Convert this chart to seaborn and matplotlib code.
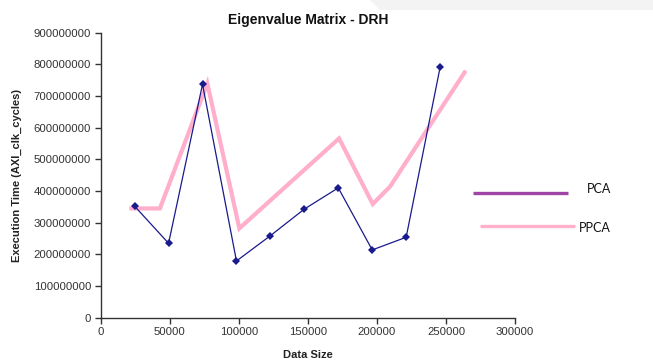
import matplotlib
matplotlib.use("Agg")
import matplotlib.pyplot as plt
from matplotlib.lines import Line2D
from matplotlib.patches import Polygon
import seaborn as sns
import pandas as pd

# Execution time (clock cycles) measured for each data size
pca_size = [24576, 49152, 73728, 98304, 122880, 147456, 172032, 196608, 221184, 245760]
pca_cycles = [352e6, 235e6, 737e6, 179e6, 259e6, 343e6, 410e6, 214e6, 254e6, 791e6]

ppca_size = [20700, 42900, 77200, 100400, 172600, 197000, 209500, 264300]
ppca_cycles = [345e6, 345e6, 740e6, 282e6, 566e6, 359e6, 414e6, 780e6]

x_ticks = [0, 50000, 100000, 150000, 200000, 250000, 300000]
y_ticks = [0, 100000000, 200000000, 300000000, 400000000, 500000000,
           600000000, 700000000, 800000000, 900000000]

series_names = ["PCA", "PPCA"]

sns.set_theme(style="white")
plt.rcParams["font.family"] = ["Liberation Sans", "DejaVu Sans"]

fig = plt.figure(figsize=(6.53, 3.62), dpi=100)
ax = fig.add_axes([0.1542, 0.1224, 0.7887 - 0.1542, 0.9097 - 0.1224])

pca_df = pd.DataFrame({"size": pca_size, "cycles": pca_cycles})
ppca_df = pd.DataFrame({"size": ppca_size, "cycles": ppca_cycles})

sns.lineplot(data=ppca_df, x="size", y="cycles", ax=ax, color="#ffaecb",
             linewidth=3.0, estimator=None, sort=False, zorder=2,
             solid_capstyle="butt", solid_joinstyle="miter")
sns.lineplot(data=pca_df, x="size", y="cycles", ax=ax, color="#1a1a8c",
             linewidth=0.9, marker="D", markersize=4, markeredgewidth=0,
             estimator=None, sort=False, zorder=3)

ax.set_xlim(0, 300000)
ax.set_ylim(0, 900000000)
ax.set_xticks(x_ticks)
ax.set_xticklabels([str(v) for v in x_ticks])
ax.set_yticks(y_ticks)
ax.set_yticklabels([str(v) for v in y_ticks])

for side in ("top", "right"):
    ax.spines[side].set_visible(False)
for side in ("left", "bottom"):
    ax.spines[side].set_color("#333333")
    ax.spines[side].set_linewidth(1.0)

ax.tick_params(axis="both", which="major", direction="out", length=4,
               width=1.0, color="#333333", labelsize=8.2, labelcolor="#333333",
               bottom=True, left=True, pad=3)

ax.set_xlabel("Data Size", fontsize=8, fontweight="bold", color="#222222", labelpad=9)
ax.set_ylabel("Execution Time (AXI_clk_cycles)", fontsize=8, fontweight="bold",
              color="#222222", labelpad=8)
ax.set_title("Eigenvalue Matrix - DRH", fontsize=10, fontweight="bold",
             color="#111111", pad=6)

# Legend entries drawn beside the plot area
fig.add_artist(Line2D([473 / 653, 568 / 653], [1 - 193 / 362, 1 - 193 / 362],
                      color="#a044a6", linewidth=2.4, transform=fig.transFigure,
                      solid_capstyle="butt"))
fig.text(587 / 653, 1 - 189 / 362, series_names[0], fontsize=9,
         family=["Lato", "DejaVu Sans"], va="center", ha="left", color="#111111")
fig.add_artist(Line2D([480 / 653, 575 / 653], [1 - 225.5 / 362, 1 - 225.5 / 362],
                      color="#ffb0cc", linewidth=2.4, transform=fig.transFigure,
                      solid_capstyle="butt"))
fig.text(579 / 653, 1 - 228.5 / 362, series_names[1], fontsize=9,
         family=["Lato", "DejaVu Sans"], va="center", ha="left", color="#111111")

# faint grey band along the top edge
fig.add_artist(Polygon([[370 / 653, 1.0], [653 / 653, 1.0], [653 / 653, 1 - 10 / 362],
                        [380 / 653, 1 - 10 / 362]], closed=True, transform=fig.transFigure,
                       facecolor="#f3f3f3", edgecolor="none", zorder=0))

fig.savefig("out.png", dpi=100)
